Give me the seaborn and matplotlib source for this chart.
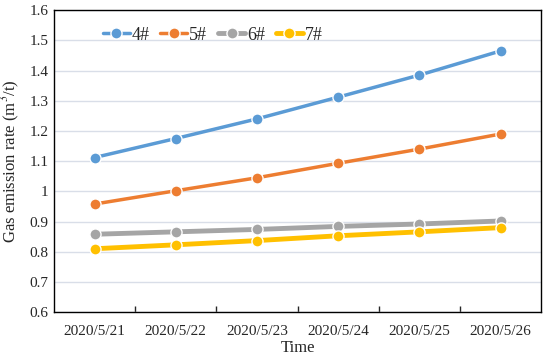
import pandas as pd
import matplotlib.pyplot as plt
import seaborn as sns
from matplotlib.ticker import FixedLocator

# Datos
dates = ['2020/5/21', '2020/5/22', '2020/5/23', '2020/5/24', '2020/5/25', '2020/5/26']
s4 = [1.112, 1.175, 1.240, 1.312, 1.385, 1.465]
s5 = [0.958, 1.002, 1.045, 1.093, 1.140, 1.190]
s6 = [0.858, 0.866, 0.874, 0.884, 0.892, 0.902]
s7 = [0.810, 0.823, 0.837, 0.853, 0.866, 0.880]
series = ['4#', '5#', '6#', '7#']

df = pd.DataFrame({'pos': list(range(len(dates))) * 4,
                   'value': s4 + s5 + s6 + s7,
                   'series': [s for s in series for _ in dates]})

sns.set_style('white')
plt.rcParams['font.family'] = ['Liberation Serif', 'DejaVu Serif']
plt.rcParams['mathtext.fontset'] = 'stix'

colors = {'4#': '#5B9BD5', '5#': '#ED7D31', '6#': '#A5A5A5', '7#': '#FFC000'}
widths = {'4#': 2.5, '5#': 2.5, '6#': 3.5, '7#': 3.5}

fig = plt.figure(figsize=(5.5, 3.63), dpi=100)
ax = fig.add_axes([0.098, 0.14, 0.886, 0.832])

for name in series:
    sub = df[df['series'] == name]
    sns.lineplot(data=sub, x='pos', y='value', ax=ax, color=colors[name],
                 linewidth=widths[name], marker='o', markersize=8,
                 markeredgecolor='white', markeredgewidth=1, label=name)

ax.set_xlim(-0.5, 5.5)
ax.set_ylim(0.6, 1.6)
ax.set_yticks([0.6 + 0.1 * i for i in range(11)])
ax.set_yticklabels(['0.6', '0.7', '0.8', '0.9', '1', '1.1', '1.2', '1.3', '1.4', '1.5', '1.6'])
ax.set_xticks(range(len(dates)))
ax.set_xticklabels(dates)
ax.xaxis.set_minor_locator(FixedLocator([0.5, 1.5, 2.5, 3.5, 4.5]))
ax.tick_params(axis='x', which='major', length=0, labelsize=11, pad=9)
ax.tick_params(axis='x', which='minor', direction='in', length=4, width=1, bottom=True)
ax.tick_params(axis='y', length=0, labelsize=11, pad=4)
ax.yaxis.grid(True, color='#D9DEE8', linewidth=1)
ax.set_axisbelow(True)
for sp in ax.spines.values():
    sp.set_color('black')
    sp.set_linewidth(1)

ax.set_xlabel('Time', fontsize=12, labelpad=2)
ax.set_ylabel('Gas emission rate (m$^3$/t)', fontsize=12, labelpad=5)

ax.legend(loc='center left', bbox_to_anchor=(0.1, 0.917), ncol=4, frameon=False,
          fontsize=13, handlelength=1.5, handletextpad=0.1, columnspacing=0.6,
          borderaxespad=0, borderpad=0)

plt.savefig('out.png', dpi=100)
